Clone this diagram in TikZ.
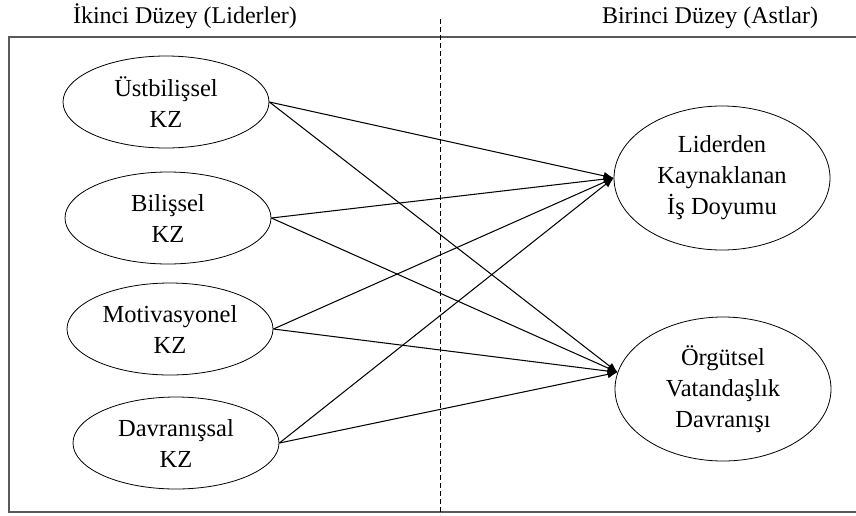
\documentclass[tikz,border=0pt]{standalone}
\usepackage{fontspec}
\setmainfont{Liberation Serif}
\usetikzlibrary{arrows.meta,shapes.geometric}
\newcommand{\framecolor}{black!65}
\newcommand{\thickness}{0.8pt}
\newcommand{\txtsize}{\fontsize{24.5}{31}\selectfont}
\newcommand{\titlesize}{\fontsize{24}{30}\selectfont}
\tikzset{
  kz/.style={draw, ellipse, inner sep=0, align=center, font=\txtsize,
    minimum width=206, minimum height=92, line width=\thickness},
  outcome/.style={kz, minimum width=216, minimum height=144},
  path/.style={line width=1.3*\thickness, -{Latex[length=10pt,width=8pt]}}
}

\begin{document}
\begin{tikzpicture}[x=1pt,y=1pt]
\useasboundingbox (0,0) rectangle (856,-515);
%titles
\node[font=\titlesize, anchor=base] (t1) at (185,-23) {İkinci Düzey (Liderler)};
\node[font=\titlesize, anchor=base] (t2) at (710,-23) {Birinci Düzey (Astlar)};
%frame
\draw[\framecolor] [line width = 2*\thickness] (858,-37) -- (9,-37) -- (9,-512) -- (858,-512);
\draw[dash pattern=on 5pt off 3pt] [line width = \thickness] (440,-19) -- (440,-515);
%left
\node[kz] (1) at (166,-102) {Üstbilişsel\\KZ};
\node[kz] (2) at (168,-218) {Bilişsel\\KZ};
\node[kz] (3) at (170,-329) {Motivasyonel\\KZ};
\node[kz] (4) at (176,-443) {Davranışsal\\KZ};
%right
\node[outcome] (5) at (722,-178) {Liderden\\Kaynaklanan\\İş Doyumu};
\node[outcome] (6) at (723,-389) {Örgütsel\\Vatandaşlık\\Davranışı};
%paths
\draw[path] (1.east) -- (5.west);
\draw[path] (1.east) -- (6.171);
\draw[path] (2.east) -- (5.west);
\draw[path] (2.east) -- (6.171);
\draw[path] (3.east) -- (5.west);
\draw[path] (3.east) -- (6.171);
\draw[path] (4.east) -- (5.west);
\draw[path] (4.east) -- (6.171);
\end{tikzpicture}
\end{document}
